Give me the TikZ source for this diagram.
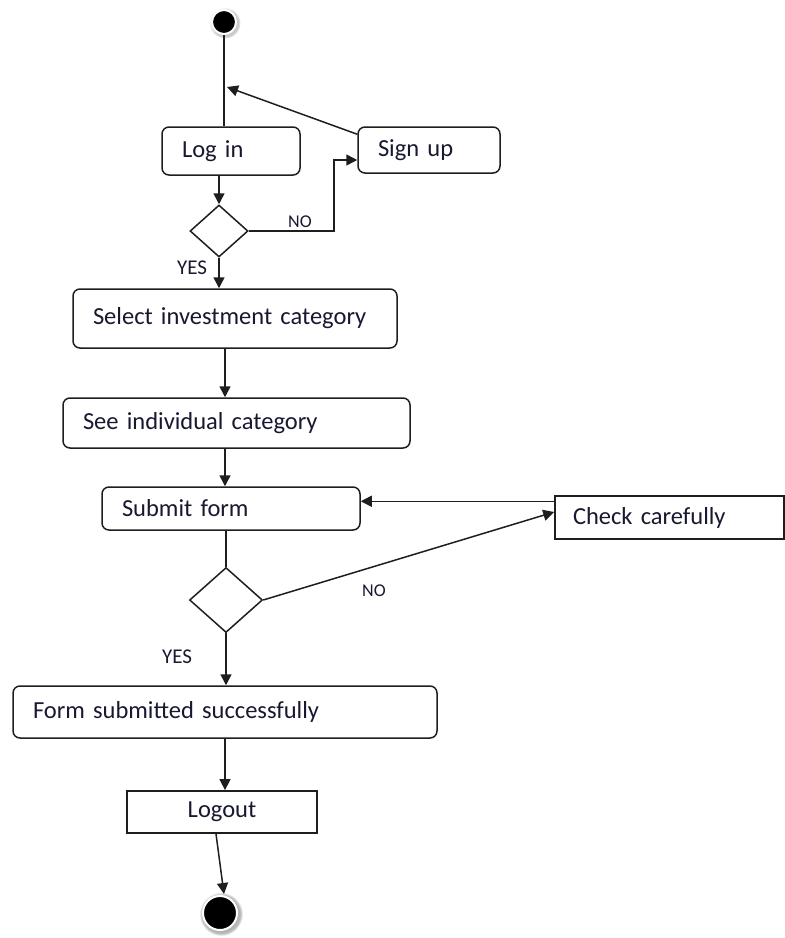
\documentclass[tikz,border=0pt]{standalone}
\usepackage{fontspec}
\setmainfont{Carlito}
\usetikzlibrary{shapes.geometric,arrows.meta,calc,shadows}
\definecolor{txt}{RGB}{24,24,48}
\definecolor{ln}{RGB}{30,30,30}
\begin{document}
\begin{tikzpicture}[x=1pt,y=-1pt,
  every node/.style={font=\fontsize{24.5}{28}\selectfont, text=txt},
  actbox/.style={draw=ln, line width=1.5pt, rounded corners=7pt, fill=white, inner xsep=20pt, inner ysep=0pt, align=left},
  plainbox/.style={draw=ln, line width=1.5pt, fill=white, inner xsep=18pt, inner ysep=0pt, align=left},
  decision/.style={diamond, draw=ln, line width=1.5pt, inner sep=0pt, fill=white},
  arr/.style={draw=ln, line width=1.5pt, -{Triangle[length=11pt,width=11pt]}},
  conn/.style={draw=ln, line width=1.5pt},
  lab/.style={font=\fontsize{18}{20}\selectfont, inner sep=0pt, anchor=base west},
  yeslab/.style={font=\fontsize{21}{24}\selectfont, inner sep=0pt, anchor=base west},
  startdot/.style={circle, fill=black, draw=white, line width=2pt, inner sep=0pt,
     circular drop shadow={shadow scale=1.3, shadow xshift=0.8pt, shadow yshift=-0.8pt, fill=gray!70, opacity=0.6}},
]
\useasboundingbox (0,0) rectangle (785,938);

% nodes
\node[startdot, minimum size=24pt] (start) at (224,22) {};
\node[actbox, text width=98pt, minimum height=48pt] (login) at (231,151) {Log in};
\node[actbox, text width=102pt, minimum height=46pt] (signup) at (429,150) {Sign up};
\node[decision, minimum width=58pt, minimum height=52pt] (d1) at (219,231) {};
\node[actbox, text width=284pt, minimum height=59pt] (select) at (235,318.5) {Select investment category};
\node[actbox, text width=307pt, minimum height=50pt] (see) at (236.5,423) {See individual category};
\node[actbox, text width=218pt, minimum height=43pt] (submit) at (231,508.5) {Submit form};
\node[plainbox, text width=193pt, minimum height=43pt] (check) at (669.5,517.5) {Check carefully};
\node[decision, minimum width=73pt, minimum height=65pt] (d2) at (226,600) {};
\node[actbox, text width=384pt, minimum height=52pt] (form) at (225,712) {Form submitted successfully};
\node[draw=ln, line width=1.8pt, fill=white, minimum width=190pt, minimum height=42pt, inner sep=0pt] (logout) at (222,812) {Logout};
\node[startdot, minimum size=34pt, circular drop shadow={shadow scale=1.25, shadow xshift=0.8pt, shadow yshift=-0.8pt, fill=gray!70, opacity=0.6}] (end) at (220,913) {};

% labels
\node[lab] (no1) at (288,227) {NO};
\node[yeslab] (yes1) at (177,274) {YES};
\node[lab] (no2) at (362,596) {NO};
\node[yeslab] (yes2) at (162,663) {YES};

% helper coordinates
\coordinate (col) at (225,0);
\coordinate (j1) at (227,87);
\coordinate (cc) at ($(check.north west)+(0,6)$);

% connectors
\draw[conn] (start.south) -- (start.south |- login.north);
\draw[arr] ($(signup.north west)+(0,8)$) -- (j1);
\draw[arr] (login.south -| d1.north) -- (d1.north);
\draw[arr] (d1.east) -- ++(85,0) |- ($(signup.west)+(0,10)$);
\draw[arr] (d1.south) -- (d1.south |- select.north);
\draw[arr] (select.south -| col) -- (see.north -| col);
\draw[arr] (see.south -| col) -- (submit.north -| col);
\draw[conn] (submit.south -| d2.north) -- (d2.north);
\draw[arr] (d2.east) -- ($(check.west)+(0,-5.5)$);
\draw[arr] (cc) -- (submit.east |- cc);
\draw[arr] (d2.south) -- (d2.south |- form.north);
\draw[arr] (form.south -| col) -- (logout.north -| col);
\draw[arr] ($(logout.south)+(-6,0)$) -- ($(end.north)+(4,-1)$);
\end{tikzpicture}
\end{document}
